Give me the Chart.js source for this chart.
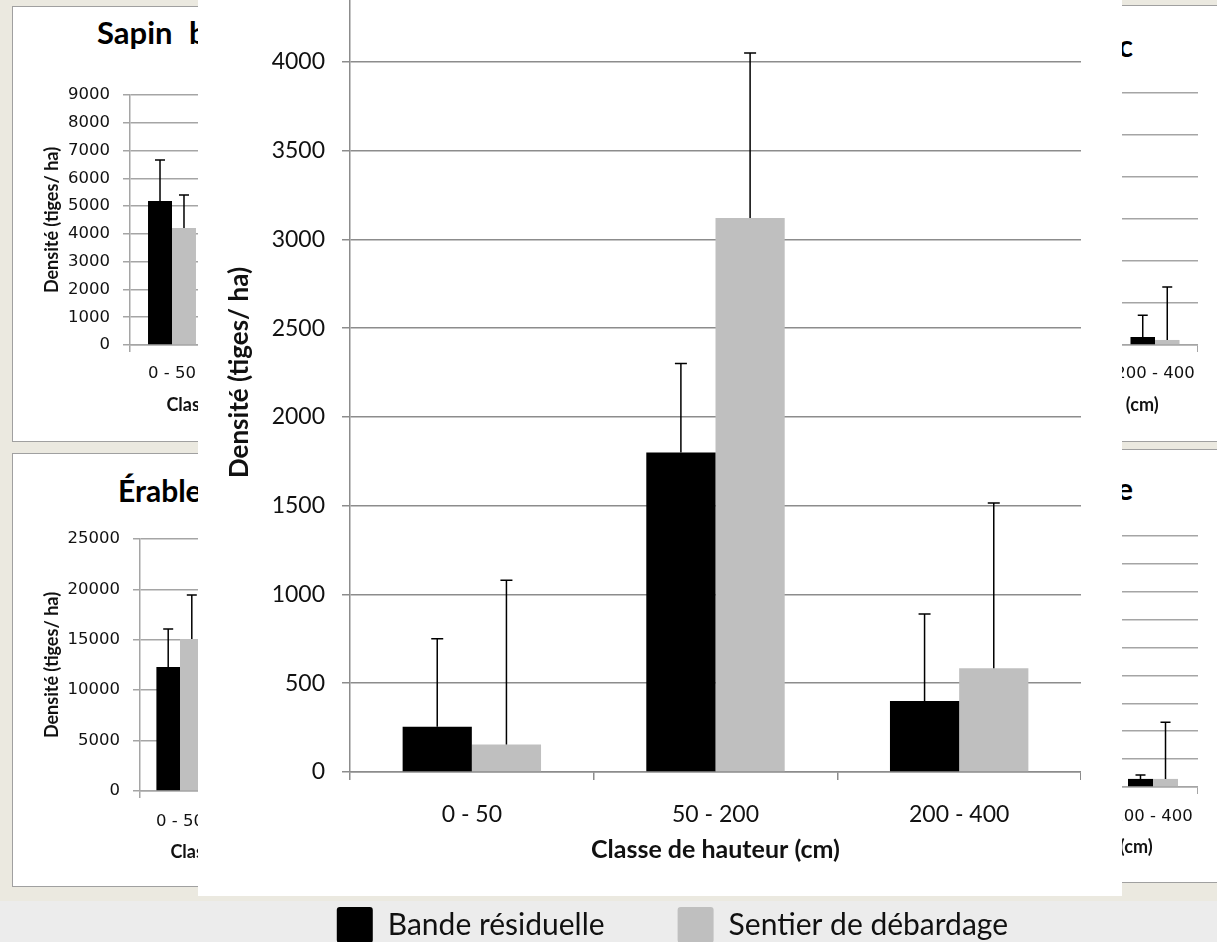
<!DOCTYPE html>
<html>
<head>
<meta charset="utf-8">
<script src="https://cdn.jsdelivr.net/npm/chart.js@4.4.1/dist/chart.umd.min.js"></script>
<style>
html,body{margin:0;padding:0;}
body{width:1217px;height:942px;overflow:hidden;position:relative;background:#ebe9e0;}
.panel{position:absolute;background:#fff;border:1px solid #a0a0a0;box-sizing:border-box;}
.ptitle{position:absolute;font:bold 30px Lato,sans-serif;line-height:30px;color:#000;white-space:nowrap;}
canvas{position:absolute;}
#strip{position:absolute;left:0;top:901px;width:1217px;height:41px;background:#ececec;}
#main{position:absolute;left:198px;top:0;width:924px;height:896px;background:#fff;}
</style>
</head>
<body>
<div class="panel" style="left:12px;top:6px;width:440px;height:436px"></div>
<div class="panel" style="left:12px;top:453px;width:440px;height:434px"></div>
<div class="panel" style="left:780px;top:5px;width:460px;height:437px"></div>
<div class="panel" style="left:780px;top:449px;width:460px;height:434px"></div>
<div class="ptitle" style="left:97px;top:17px;font-size:31px;word-spacing:9px">Sapin baumier</div>
<div class="ptitle" style="left:118px;top:475px">Érable à sucre</div>
<div class="ptitle" style="right:84px;top:30px">Bouleau blanc</div>
<div class="ptitle" style="right:84px;top:473px">Épinette noire</div>
<canvas id="sapin" width="370" height="370" style="left:12px;top:60px"></canvas>
<canvas id="erable" width="368" height="380" style="left:12px;top:500px"></canvas>
<canvas id="bouleau" width="338" height="370" style="left:860px;top:60px"></canvas>
<canvas id="epinette" width="350" height="375" style="left:848px;top:500px"></canvas>
<div id="strip"></div>
<div id="main"></div>
<canvas id="graphique" width="883" height="1013" style="left:198px;top:-60px"></canvas>
<script>
// valeurs
const categories = ['0 - 50', '50 - 200', '200 - 400'];
const series = ['Bande résiduelle', 'Sentier de débardage'];
const xTitre = 'Classe de hauteur (cm)';
const yTitre = 'Densité (tiges/ ha)';

// graphique principal
const bande = [255, 1800, 400];
const bandeErr = [495, 500, 490];
const sentier = [155, 3120, 585];
const sentierErr = [925, 930, 930];
const yMax = 4500, yPas = 500;

// petits graphiques en arriere-plan (categories cachees = null)
const sapinBande = [5180, null, null];
const sapinBandeErr = [1480, null, null];
const sapinSentier = [4210, null, null];
const sapinSentierErr = [1190, null, null];

const erableBande = [12300, null, null];
const erableBandeErr = [3770, null, null];
const erableSentier = [15080, null, null];
const erableSentierErr = [4360, null, null];

const bouleauBande = [null, null, 95];
const bouleauBandeErr = [null, null, 260];
const bouleauSentier = [null, null, 60];
const bouleauSentierErr = [null, null, 630];

const epinetteBande = [null, null, 290];
const epinetteBandeErr = [null, null, 140];
const epinetteSentier = [null, null, 290];
const epinetteSentierErr = [null, null, 2030];

const NOIR = '#000000', GRIS = '#bfbfbf';

const errorBars = {
  id: 'errorBars',
  afterDatasetsDraw(chart, args, opts) {
    const ctx = chart.ctx, y = chart.scales.y;
    ctx.save();
    ctx.strokeStyle = '#000';
    ctx.lineWidth = opts.width;
    chart.data.datasets.forEach((ds, i) => {
      chart.getDatasetMeta(i).data.forEach((bar, j) => {
        const v = ds.data[j], e = ds.errors[j];
        if (v == null || e == null) return;
        const top = y.getPixelForValue(v + e);
        ctx.beginPath();
        ctx.moveTo(bar.x, bar.y); ctx.lineTo(bar.x, top);
        ctx.moveTo(bar.x - opts.cap / 2, top); ctx.lineTo(bar.x + opts.cap / 2, top);
        ctx.stroke();
      });
    });
    ctx.restore();
  }
};

function jeu(label, data, errors, color, pct) {
  return {label, data, errors, backgroundColor: color, borderWidth: 0,
          categoryPercentage: pct, barPercentage: 1};
}

function petit(id, d1, e1, d2, e2, o) {
  const gris = '#a5a5a5';
  return new Chart(document.getElementById(id), {
    type: 'bar',
    data: {labels: categories, datasets: [
      jeu(series[0], d1, e1, NOIR, o.pct),
      jeu(series[1], d2, e2, GRIS, o.pct)]},
    options: {
      responsive: false, animation: false,
      layout: {padding: {top: o.top, left: 0, right: 0, bottom: 0}},
      plugins: {legend: {display: false}, tooltip: {enabled: false}, errorBars: {cap: 10, width: 1.5}},
      scales: {
        x: {
          grid: {offset: true, drawOnChartArea: false, tickLength: 7, color: gris, lineWidth: 1.5},
          border: {color: gris, width: 1.5},
          // ecart vertical porte par la hauteur de ligne (pas de marge a droite)
          ticks: {padding: 0, color: '#111', maxRotation: 0, autoSkip: false,
                  font: {family: 'DejaVu Sans', size: 16.5, lineHeight: (2 * (o.xp + 9.9)) + 'px'}},
          title: {display: true, text: xTitre, color: '#111',
                  font: {family: 'Lato', size: 18, weight: 'bold'}, padding: {top: 0, bottom: o.tb}},
          afterFit: s => { s.height = o.xh; }
        },
        y: {
          min: 0, max: o.max,
          grid: {tickLength: 7, color: gris, lineWidth: 1.5},
          border: {color: gris, width: 1.5},
          ticks: {stepSize: o.step, padding: 13, color: '#111', callback: v => String(v),
                  font: {family: 'DejaVu Sans', size: 16.5}},
          title: {display: true, text: yTitre, color: '#111',
                  font: {family: 'Lato', size: 18, weight: 'bold'}, padding: {top: 29, bottom: 0}},
          afterFit: s => { s.width = o.yw; }
        }
      }
    },
    plugins: [errorBars]
  });
}

petit('sapin', sapinBande, sapinBandeErr, sapinSentier, sapinSentierErr,
  {pct: 0.571, top: 35, xh: 85, xp: 12, tb: 14, yw: 118, max: 9000, step: 1000});
petit('erable', erableBande, erableBandeErr, erableSentier, erableSentierErr,
  {pct: 0.59, top: 39, xh: 89, xp: 14, tb: 17, yw: 128, max: 25000, step: 5000});
petit('bouleau', bouleauBande, bouleauBandeErr, bouleauSentier, bouleauSentierErr,
  {pct: 0.57, top: 33, xh: 85, xp: 12, tb: 14, yw: 80, max: 3000, step: 500});
petit('epinette', epinetteBande, epinetteBandeErr, epinetteSentier, epinetteSentierErr,
  {pct: 0.556, top: 36, xh: 88, xp: 13, tb: 17, yw: 80, max: 9000, step: 1000});

const grille = '#8c8c8c';
new Chart(document.getElementById('graphique'), {
  type: 'bar',
  data: {labels: categories, datasets: [
    jeu(series[0], bande, bandeErr, NOIR, 0.568),
    jeu(series[1], sentier, sentierErr, GRIS, 0.568)]},
  options: {
    responsive: false, animation: false,
    layout: {padding: {top: 33, left: 0, right: 0, bottom: 0}},
    plugins: {
      tooltip: {enabled: false},
      errorBars: {cap: 12, width: 1.5},
      legend: {
        position: 'bottom', align: 'end',
        labels: {boxWidth: 36, boxHeight: 36, padding: 73, color: '#111',
                 useBorderRadius: true, borderRadius: 3,
                 font: {family: 'Lato', size: 30}}
      }
    },
    scales: {
      x: {
        grid: {offset: true, drawOnChartArea: false, tickLength: 8, color: grille, lineWidth: 1.5},
        border: {color: grille, width: 1.5},
        ticks: {padding: 21, color: '#111', maxRotation: 0, autoSkip: false,
                font: {family: 'Lato', size: 23}},
        title: {display: true, text: xTitre, color: '#111',
                font: {family: 'Lato', size: 25, weight: 'bold'}, padding: {top: 0, bottom: -31}},
        afterFit: s => { s.height = 62; }
      },
      y: {
        min: 0, max: yMax,
        grid: {tickLength: 8, color: grille, lineWidth: 1.5},
        border: {color: grille, width: 1.5},
        ticks: {stepSize: yPas, padding: 17, color: '#111', callback: v => String(v),
                font: {family: 'Lato', size: 23}},
        title: {display: true, text: yTitre, color: '#111',
                font: {family: 'Lato', size: 26, weight: 'bold'}, padding: {top: 26, bottom: 0}},
        afterFit: s => { s.width = 152; }
      }
    }
  },
  plugins: [errorBars]
});
</script>
</body>
</html>
